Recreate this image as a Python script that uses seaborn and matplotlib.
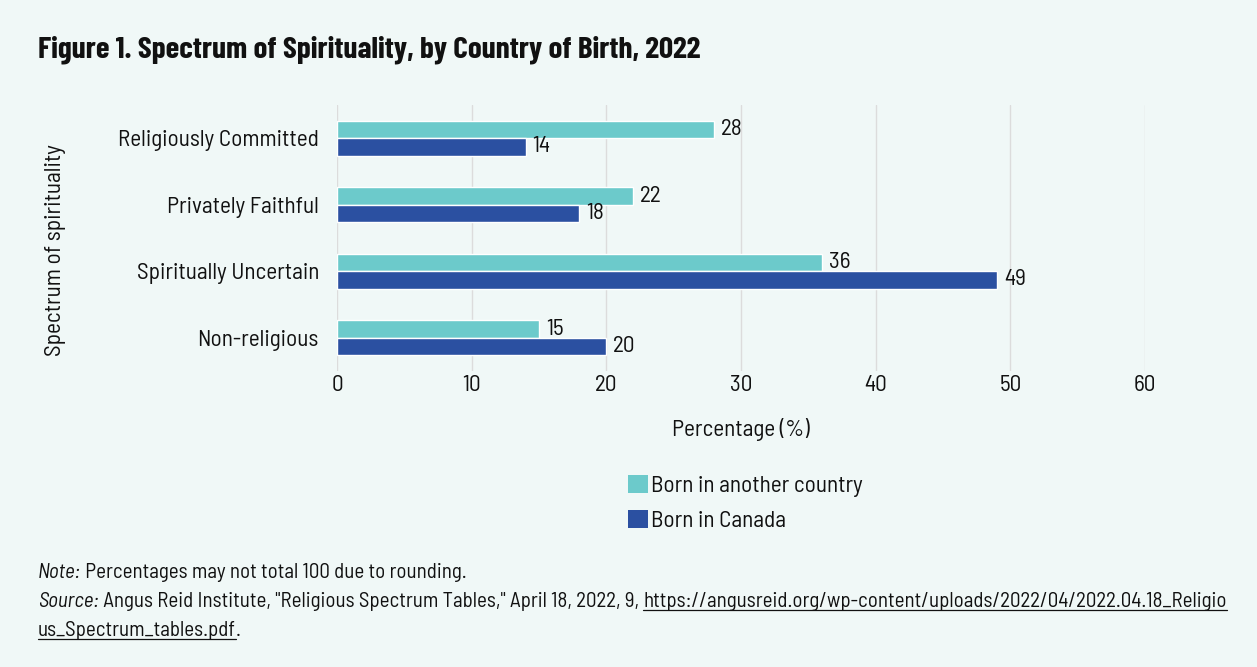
import matplotlib
matplotlib.use("Agg")
import matplotlib.pyplot as plt
import seaborn as sns
import pandas as pd
from matplotlib.patches import Patch
from matplotlib.lines import Line2D

categories = ["Religiously Committed", "Privately Faithful", "Spiritually Uncertain", "Non-religious"]
series_names = ["Born in another country", "Born in Canada"]
born_other = [28, 22, 36, 15]
born_canada = [14, 18, 49, 20]
x_ticks = [0, 10, 20, 30, 40, 50, 60]

colors = {"Born in another country": "#6CCACB", "Born in Canada": "#2B50A1"}
bg = "#F0F8F7"

sns.set_theme(style="white")
BODY = ["Barlow Semi Condensed", "Barlow Condensed", "Roboto Condensed", "Asap Condensed", "DejaVu Sans"]
TITLE = ["Barlow Condensed", "Barlow Semi Condensed", "Roboto Condensed", "Asap Condensed", "DejaVu Sans"]
plt.rcParams["font.family"] = BODY
FS = 16.7

df = pd.DataFrame({
    "category": categories * 2,
    "series": [series_names[0]] * 4 + [series_names[1]] * 4,
    "value": born_other + born_canada,
})

fig = plt.figure(figsize=(12.57, 6.67), dpi=100, facecolor=bg)
ax = fig.add_axes([337 / 1257, 1 - 371 / 667, (1145 - 337) / 1257, (371 - 105) / 667])
ax.set_facecolor(bg)

sns.barplot(data=df, y="category", x="value", hue="series", hue_order=series_names,
            order=categories, palette=colors, orient="h", width=0.52, gap=0,
            ax=ax, legend=False, saturation=1)

for cont in ax.containers:
    ax.bar_label(cont, padding=5, fontsize=FS, color="#111111")

ax.set_xlim(0, 60)
ax.set_xticks(x_ticks)
ax.set_xticklabels([str(t) for t in x_ticks], fontsize=FS, color="#111111")
ax.tick_params(axis="y", labelsize=FS, labelcolor="#111111", length=0, pad=13)
ax.tick_params(axis="x", length=0, pad=3)
ax.grid(axis="x", color="#DCDCDC", linewidth=1)
ax.set_axisbelow(True)
for s in ax.spines.values():
    s.set_visible(False)
ax.set_xlabel("Percentage (%)", fontsize=FS, color="#111111", labelpad=16)
ax.set_ylabel("Spectrum of spirituality", fontsize=FS, color="#111111", labelpad=0)
ax.yaxis.set_label_coords(-0.336, 0.455)

handles = [Patch(facecolor=colors[s], edgecolor="none") for s in series_names]
fig.legend(handles, series_names, loc="upper left", bbox_to_anchor=(607 / 1257, 1 - 454 / 667),
           frameon=False, fontsize=FS, handlelength=0.85, handleheight=0.85,
           handletextpad=0.15, labelspacing=0.55, labelcolor="#111111")

fig.text(38 / 1257, 1 - 50 / 667, "Figure 1. Spectrum of Spirituality, by Country of Birth, 2022",
         fontsize=22.5, fontweight="bold", va="center", ha="left", color="#111111", family=TITLE)

# footnotes with segments
fig.canvas.draw()
renderer = fig.canvas.get_renderer()


def place_line(y_px, segments):
    x = 38 / 1257
    for txt, style, underline in segments:
        t = fig.text(x, 1 - y_px / 667, txt, fontsize=15.1, style=style, va="baseline",
                     ha="left", color="#111111", family=BODY)
        bb = t.get_window_extent(renderer=renderer).transformed(fig.transFigure.inverted())
        if underline:
            yl = 1 - (y_px + 3) / 667
            fig.add_artist(Line2D([bb.x0, bb.x1], [yl, yl], transform=fig.transFigure,
                                  color="#111111", linewidth=0.9))
        x = bb.x1


place_line(578, [("Note:", "italic", False), (" Percentages may not total 100 due to rounding.", "normal", False)])
place_line(607, [("Source:", "italic", False),
                 (" Angus Reid Institute, \"Religious Spectrum Tables,\" April 18, 2022, 9, ", "normal", False),
                 ("https://angusreid.org/wp-content/uploads/2022/04/2022.04.18_Religio", "normal", True)])
place_line(636, [("us_Spectrum_tables.pdf", "normal", True), (".", "normal", False)])

fig.savefig("out.png", dpi=100, facecolor=bg)
